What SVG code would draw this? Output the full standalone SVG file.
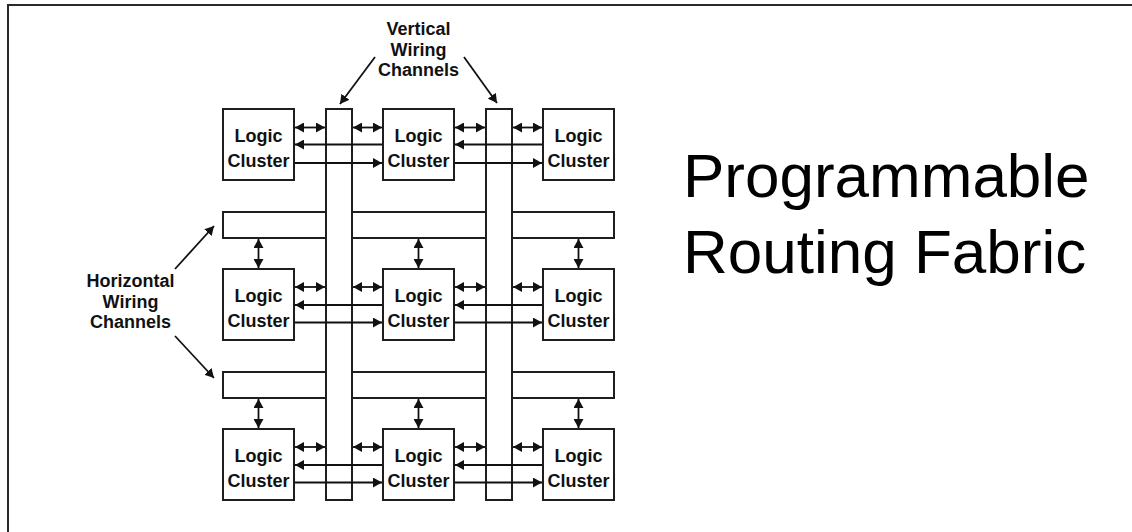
<svg xmlns="http://www.w3.org/2000/svg" width="1132" height="532" viewBox="0 0 1132 532">
  <style>
    .box { fill: #ffffff; stroke: #1e1e1e; stroke-width: 2; }
    .lbl { font-family: "Liberation Sans", Arial, sans-serif; font-weight: bold; font-size: 18px; fill: #111; text-anchor: middle; }
    .title { font-family: "Liberation Sans", Arial, sans-serif; font-size: 62px; fill: #000; }
    .wire { stroke: #111; stroke-width: 1.8; fill: none; }
    .both { marker-start: url(#head); marker-end: url(#head); }
    .one { marker-end: url(#head); }
    .frame { stroke: #2a2a2a; stroke-width: 2; fill: none; }
  </style>
  <defs>
    <marker id="head" markerUnits="userSpaceOnUse" viewBox="0 0 9 10" markerWidth="9" markerHeight="10" refX="9" refY="5" orient="auto-start-reverse">
      <path d="M0,0 L9,5 L0,10 z" fill="#111"/>
    </marker>
  </defs>

  <!-- page frame (top and left edges) -->
  <path class="frame" d="M8,532 L8,5 L1132,5"/>

  <!-- horizontal wiring channels -->
  <g id="hchan1"><rect class="box" x="223" y="212" width="391" height="26"/></g>
  <g id="hchan2"><rect class="box" x="223" y="372" width="391" height="26"/></g>

  <!-- vertical wiring channels -->
  <g id="vchan1"><rect class="box" x="326" y="109" width="26" height="391"/></g>
  <g id="vchan2"><rect class="box" x="486" y="109" width="26" height="391"/></g>

  <!-- logic clusters -->
  <g id="lc11"><rect class="box" x="223" y="109" width="71" height="71"/><text class="lbl" x="258.5" y="142">Logic</text><text class="lbl" x="258.5" y="167">Cluster</text></g>
  <g id="lc12"><rect class="box" x="383" y="109" width="71" height="71"/><text class="lbl" x="418.5" y="142">Logic</text><text class="lbl" x="418.5" y="167">Cluster</text></g>
  <g id="lc13"><rect class="box" x="543" y="109" width="71" height="71"/><text class="lbl" x="578.5" y="142">Logic</text><text class="lbl" x="578.5" y="167">Cluster</text></g>
  <g id="lc21"><rect class="box" x="223" y="269" width="71" height="71"/><text class="lbl" x="258.5" y="302">Logic</text><text class="lbl" x="258.5" y="327">Cluster</text></g>
  <g id="lc22"><rect class="box" x="383" y="269" width="71" height="71"/><text class="lbl" x="418.5" y="302">Logic</text><text class="lbl" x="418.5" y="327">Cluster</text></g>
  <g id="lc23"><rect class="box" x="543" y="269" width="71" height="71"/><text class="lbl" x="578.5" y="302">Logic</text><text class="lbl" x="578.5" y="327">Cluster</text></g>
  <g id="lc31"><rect class="box" x="223" y="429" width="71" height="71"/><text class="lbl" x="258.5" y="462">Logic</text><text class="lbl" x="258.5" y="487">Cluster</text></g>
  <g id="lc32"><rect class="box" x="383" y="429" width="71" height="71"/><text class="lbl" x="418.5" y="462">Logic</text><text class="lbl" x="418.5" y="487">Cluster</text></g>
  <g id="lc33"><rect class="box" x="543" y="429" width="71" height="71"/><text class="lbl" x="578.5" y="462">Logic</text><text class="lbl" x="578.5" y="487">Cluster</text></g>

  <!-- connectors -->
  <g id="connectors">
    <!-- row 1 -->
    <line class="wire both" x1="295" y1="127.5" x2="325" y2="127.5"/>
    <line class="wire both" x1="353" y1="127.5" x2="382" y2="127.5"/>
    <line class="wire both" x1="455" y1="127.5" x2="485" y2="127.5"/>
    <line class="wire both" x1="513" y1="127.5" x2="542" y2="127.5"/>
    <line class="wire one" x1="382" y1="144.5" x2="295" y2="144.5"/>
    <line class="wire one" x1="542" y1="144.5" x2="455" y2="144.5"/>
    <line class="wire one" x1="295" y1="163" x2="382" y2="163"/>
    <line class="wire one" x1="455" y1="163" x2="542" y2="163"/>
    <!-- row 2 -->
    <line class="wire both" x1="295" y1="287" x2="325" y2="287"/>
    <line class="wire both" x1="353" y1="287" x2="382" y2="287"/>
    <line class="wire both" x1="455" y1="287" x2="485" y2="287"/>
    <line class="wire both" x1="513" y1="287" x2="542" y2="287"/>
    <line class="wire one" x1="382" y1="305" x2="295" y2="305"/>
    <line class="wire one" x1="542" y1="305" x2="455" y2="305"/>
    <line class="wire one" x1="295" y1="322.5" x2="382" y2="322.5"/>
    <line class="wire one" x1="455" y1="322.5" x2="542" y2="322.5"/>
    <!-- row 3 -->
    <line class="wire both" x1="295" y1="447" x2="325" y2="447"/>
    <line class="wire both" x1="353" y1="447" x2="382" y2="447"/>
    <line class="wire both" x1="455" y1="447" x2="485" y2="447"/>
    <line class="wire both" x1="513" y1="447" x2="542" y2="447"/>
    <line class="wire one" x1="382" y1="465" x2="295" y2="465"/>
    <line class="wire one" x1="542" y1="465" x2="455" y2="465"/>
    <line class="wire one" x1="295" y1="482.5" x2="382" y2="482.5"/>
    <line class="wire one" x1="455" y1="482.5" x2="542" y2="482.5"/>
    <!-- channel to cluster, vertical -->
    <line class="wire both" x1="258.5" y1="239" x2="258.5" y2="268"/>
    <line class="wire both" x1="418.5" y1="239" x2="418.5" y2="268"/>
    <line class="wire both" x1="578.5" y1="239" x2="578.5" y2="268"/>
    <line class="wire both" x1="258.5" y1="399" x2="258.5" y2="428"/>
    <line class="wire both" x1="418.5" y1="399" x2="418.5" y2="428"/>
    <line class="wire both" x1="578.5" y1="399" x2="578.5" y2="428"/>
    <!-- label pointers -->
    <line class="wire one" x1="375" y1="57" x2="340" y2="104"/>
    <line class="wire one" x1="464" y1="57" x2="497" y2="103"/>
    <line class="wire one" x1="175" y1="269" x2="214" y2="226"/>
    <line class="wire one" x1="175" y1="336" x2="214" y2="378"/>
  </g>

  <!-- channel labels -->
  <g id="vlabel">
    <text class="lbl" x="418.5" y="35">Vertical</text>
    <text class="lbl" x="418.5" y="55.5">Wiring</text>
    <text class="lbl" x="418.5" y="76">Channels</text>
  </g>
  <g id="hlabel">
    <text class="lbl" x="130.5" y="287">Horizontal</text>
    <text class="lbl" x="130.5" y="307.5">Wiring</text>
    <text class="lbl" x="130.5" y="328">Channels</text>
  </g>

  <!-- title -->
  <g id="title">
    <text class="title" x="683" y="197">Programmable</text>
    <text class="title" x="683" y="273">Routing Fabric</text>
  </g>
</svg>
